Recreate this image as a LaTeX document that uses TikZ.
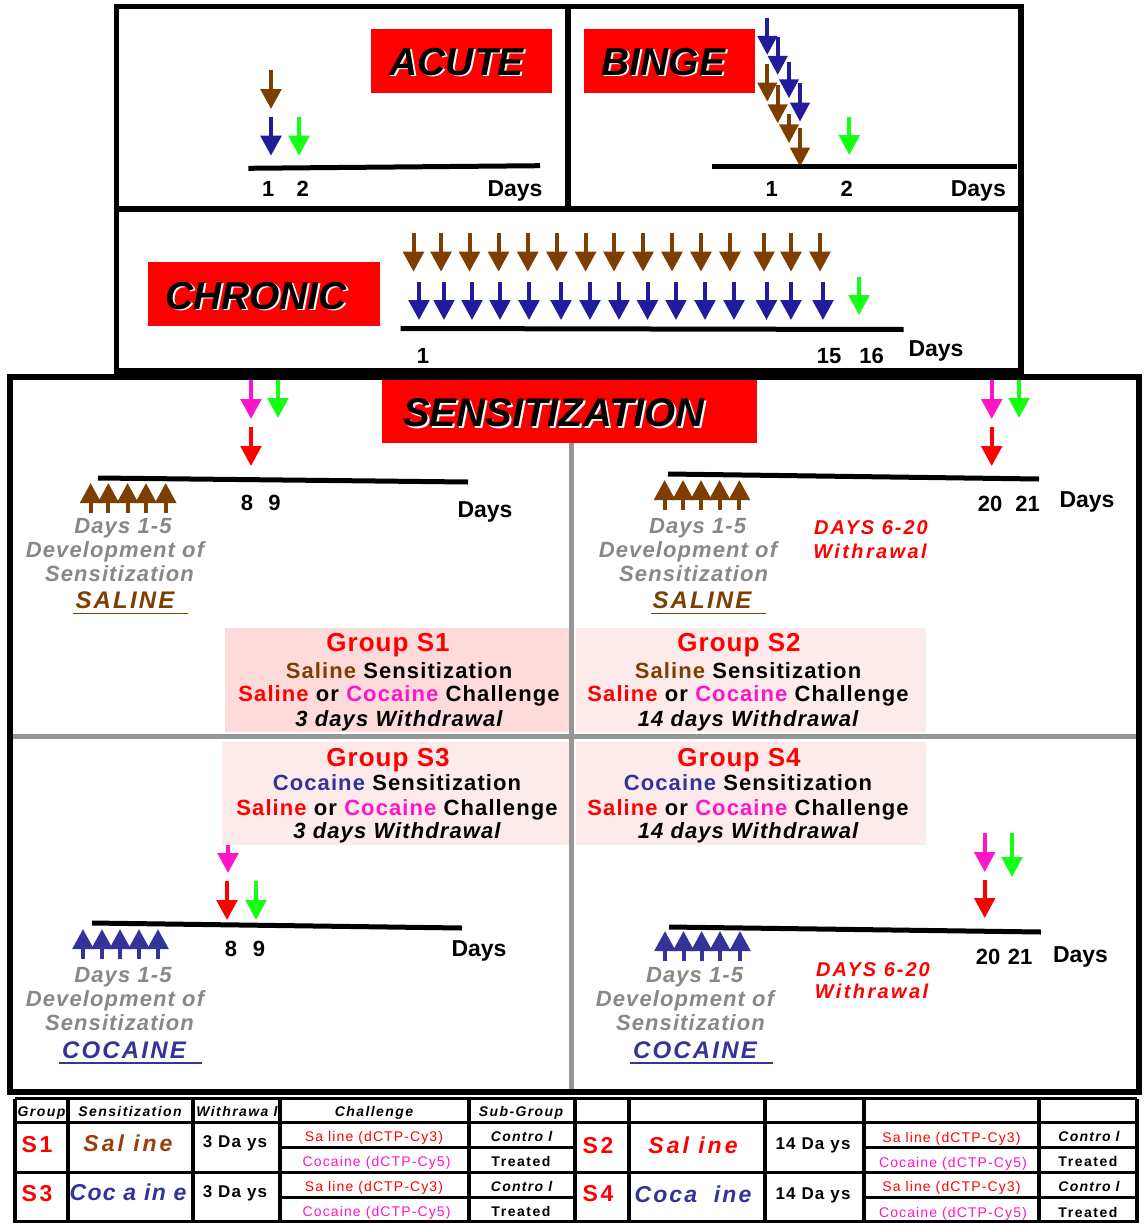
\documentclass[tikz,border=0pt]{standalone}
\usepackage{fontspec}
\setmainfont{Liberation Sans}
\usetikzlibrary{arrows.meta}
\newcommand\fsz[1]{\fontsize{#1}{#1}\selectfont}
\newcommand\lsp[1]{\addfontfeature{LetterSpace=#1}}
\definecolor{brn}{RGB}{125,62,0}
\definecolor{tbrn}{RGB}{155,62,10}
\definecolor{navy}{RGB}{32,28,155}
\definecolor{cblue}{RGB}{51,51,153}
\definecolor{grn}{RGB}{20,255,20}
\definecolor{mag}{RGB}{255,20,200}
\definecolor{gtext}{RGB}{136,136,136}
\definecolor{gline}{RGB}{150,150,150}
\definecolor{pinkA}{RGB}{253,219,219}
\definecolor{pinkB}{RGB}{253,234,234}
\begin{document}
\begin{tikzpicture}[x=1pt,y=-1pt,inner sep=0pt,outer sep=0pt,
  frame/.style={line width=5.5pt},
  axisline/.style={line width=5pt},
  dn/.style={line width=4pt,-{Triangle[width=20.5pt,length=20pt]}},
  dnb/.style={line width=4pt,-{Triangle[width=19pt,length=19pt]}},
  hd/.style={anchor=base,font=\fsz{39}\bfseries\itshape},
  dig/.style={anchor=base,font=\fsz{22}\bfseries},
  dayl/.style={anchor=base,font=\fsz{23}\bfseries},
  gt/.style={anchor=base,text=gtext,font=\fsz{22}\bfseries\itshape\lsp{5}},
  drug/.style={anchor=base,font=\fsz{24}\bfseries\itshape\lsp{9}},
  wd/.style={anchor=base,text=red,font=\fsz{20}\bfseries\itshape\lsp{10}},
  grp/.style={anchor=base,text=red,font=\fsz{26}\bfseries\lsp{4}},
  gl/.style={anchor=base,font=\fsz{22}\bfseries\lsp{5}},
  gli/.style={anchor=base,font=\fsz{22}\bfseries\itshape\lsp{5}},
  th/.style={anchor=base,font=\fsz{14}\bfseries\itshape\lsp{10}},
  tS/.style={anchor=base,text=red,font=\fsz{23}\bfseries\lsp{12}},
  tdrug/.style={anchor=base,font=\fsz{23}\bfseries\itshape\lsp{13}},
  tday/.style={anchor=base,font=\fsz{17}\bfseries\lsp{7}},
  tch/.style={anchor=base,font=\fsz{14}\lsp{8}},
  tctl/.style={anchor=base,font=\fsz{14}\bfseries\itshape\lsp{9}},
  ttr/.style={anchor=base,font=\fsz{14}\bfseries\lsp{11}},
  tline/.style={line width=3.5pt}]
\useasboundingbox (0,0) rectangle (1145,1223);
\fill[white] (0,0) rectangle (1145,1223);

% ---------- frames ----------
\draw[frame] (116.5,6.5) rectangle (1021,371);
\draw[frame] (568,6.5) -- (568,209);
\draw[frame] (116.5,209) -- (1021,209);
\draw[gline,line width=5pt] (571,380) -- (571,1089);
\draw[gline,line width=5pt] (13,736) -- (1136,736);
\draw[frame] (10,377) rectangle (1139,1092);

% ---------- ACUTE ----------
\fill[red] (371,29) rectangle (552,93);
\node[hd,text=white] at (458.7,76.5) {ACUTE};
\node[hd] (acute) at (456.7,75) {ACUTE};
\draw[dn,brn] (271,70) -- (271,109);
\draw[dn,navy] (271,116.7) -- (271,155.7);
\draw[dn,grn] (299,116.7) -- (299,155.7);
\draw[axisline] (248.3,168.3) -- (540,165.7);
\node[dig] (a1) at (268.3,196.7) {1};
\node[dig] (a2) at (302.7,196.7) {2};
\node[dayl] (adays) at (515,196.7) {Days};

% ---------- BINGE ----------
\fill[red] (584,29) rectangle (755,93);
\node[hd,text=white] at (665.3,76.5) {BINGE};
\node[hd] (binge) at (663.3,75) {BINGE};
\foreach \x/\t/\b in {767.3/18.3/55,777.7/37.3/75,789/61.7/98.3,800/83.3/121.7}
  \draw[dnb,navy] (\x,\t) -- (\x,\b);
\foreach \x/\t/\b in {767.3/64/101.7,777.7/85/123.3,789/114/143.3,800/127.7/166.7}
  \draw[dnb,brn] (\x,\t) -- (\x,\b);
\draw[dn,grn] (849.3,116.7) -- (849.3,155);
\draw[axisline] (711.7,166.7) -- (1017,166.7);
\node[dig] (b1) at (771.7,196.7) {1};
\node[dig] (b2) at (846.7,196.7) {2};
\node[dayl] (bdays) at (978.3,196.7) {Days};

% ---------- CHRONIC ----------
\fill[red] (148,262) rectangle (380,326);
\node[hd,text=white] at (258,310.5) {CHRONIC};
\node[hd] (chronic) at (256,309) {CHRONIC};
\foreach \x in {413.5,441,469.5,498.6,527.8,557,585.6,614,643,672,701,730,764,791,820}
  \draw[dn,brn] (\x,233) -- (\x,271.7);
\foreach \x in {419,444,472,500,529,561,590,619,647.5,676,705,734,766.5,791,823}
  \draw[dn,navy] (\x,282) -- (\x,320);
\draw[dn,grn] (859,277) -- (859,315);
\draw[axisline] (400.6,328.5) -- (903.6,329.5);
\node[dig] (c1) at (423,363.3) {1};
\node[dig] (c15) at (829,363.3) {15};
\node[dig] (c16) at (871.5,363.3) {16};
\node[dayl] (cdays) at (936,356.7) {Days};

% ---------- SENSITIZATION ----------
\fill[red] (382,380) rectangle (757,443);
\node[hd,text=white,font=\fsz{40}\bfseries\itshape] at (556,428.2) {SENSITIZATION};
\node[hd,font=\fsz{40}\bfseries\itshape] (sens) at (554,426.7) {SENSITIZATION};

% Q1
\draw[dn,mag] (251,380) -- (251,419);
\draw[dn,grn] (278,380) -- (278,418);
\draw[dn,red] (251,427) -- (251,466);
\draw[axisline] (98,478) -- (468,482);
\foreach \x in {90.6,108.4,127.6,146,165.7} \draw[dn,brn] (\x,513) -- (\x,483);
\node[dig] at (247,510.7) {8};
\node[dig] at (274.5,510.7) {9};
\node[dayl] at (485,517.7) {Days};
\node[gt] at (123,533.3) {Days 1-5};
\node[gt] at (115,557) {Development of};
\node[gt] at (119.5,581.5) {Sensitization};
\node[drug,text=brn] (sal1) at (125,608.3) {SALINE};
\draw[brn,line width=1.5pt] (73,613.5) -- (188,613.5);

% Q2
\draw[dn,mag] (991.7,380) -- (991.7,419);
\draw[dn,grn] (1019,380) -- (1019,418);
\draw[dn,red] (991.7,427) -- (991.7,466);
\draw[axisline] (668,474) -- (1039,479);
\foreach \x in {664.6,683,701,719.6,739.4} \draw[dn,brn] (\x,510) -- (\x,480);
\node[dig] at (990,511.7) {20};
\node[dig] at (1027.6,511.7) {21};
\node[dayl] at (1087,507.7) {Days};
\node[gt] at (697.6,533.3) {Days 1-5};
\node[gt] at (688,557) {Development of};
\node[gt] at (693.6,581) {Sensitization};
\node[drug,text=brn] (sal2) at (702,608.3) {SALINE};
\draw[brn,line width=1.5pt] (651,613.5) -- (766,613.5);
\node[wd] at (871,534) {DAYS 6-20};
\node[wd,font=\fsz{20}\bfseries\itshape\lsp{12}] at (870,558.3) {Withrawal};

% Q3
\draw[dn,mag] (228,834) -- (228,873);
\draw[dn,red] (227,881) -- (227,920);
\draw[dn,grn] (256,881) -- (256,920);
\draw[axisline] (92,923) -- (462,928);
\foreach \x in {83,102,120,139,158} \draw[dn,cblue] (\x,959) -- (\x,929);
\node[dig] at (231,956) {8};
\node[dig] at (259,956) {9};
\node[dayl] at (479,956.7) {Days};
\node[gt] at (123,982.7) {Days 1-5};
\node[gt] at (115,1006.7) {Development of};
\node[gt] at (119.5,1030.7) {Sensitization};
\node[drug,text=cblue] (coc3) at (124,1058.3) {COCAINE};
\draw[cblue,line width=1.5pt] (59,1063) -- (202,1063);

% Q4
\draw[dn,mag] (984.7,833) -- (984.7,872);
\draw[dn,grn] (1012,833) -- (1012,877);
\draw[dn,red] (984.7,880) -- (984.7,918);
\draw[axisline] (669,927) -- (1041,932);
\foreach \x in {665,683.5,701.6,720,740} \draw[dn,cblue] (\x,961) -- (\x,931);
\node[dig] at (988,964.3) {20};
\node[dig] at (1020,964.3) {21};
\node[dayl] at (1080.5,962.7) {Days};
\node[gt] at (694.6,982.7) {Days 1-5};
\node[gt] at (685,1006.7) {Development of};
\node[gt] at (690.5,1030.7) {Sensitization};
\node[drug,text=cblue] (coc4) at (695,1058.3) {COCAINE};
\draw[cblue,line width=1.5pt] (630,1063) -- (773,1063);
\node[wd] at (873,976.7) {DAYS 6-20};
\node[wd,font=\fsz{20}\bfseries\itshape\lsp{12}] at (871.5,998.3) {Withrawal};

% ---------- group boxes ----------
\fill[pinkA] (224.5,628) rectangle (568.5,732);
\fill[pinkB] (576,628) rectangle (926,732);
\fill[pinkB] (222,742) rectangle (569,845);
\fill[pinkB] (576,742) rectangle (926,845);

\node[grp] (g1) at (388,651.7) {Group S1};
\node[gl] at (399,678.3) {{\color{brn}Saline} Sensitization};
\node[gl] at (399,701.7) {{\color{red}Saline} or {\color{mag}Cocaine} Challenge};
\node[gli] at (399,726) {3 days Withdrawal};

\node[grp] (g2) at (739,651.7) {Group S2};
\node[gl] at (748,678.3) {{\color{brn}Saline} Sensitization};
\node[gl] at (748,701.7) {{\color{red}Saline} or {\color{mag}Cocaine} Challenge};
\node[gli] at (748,726) {14 days Withdrawal};

\node[grp] (g3) at (388,766) {Group S3};
\node[gl] at (397,790.7) {{\color{cblue}Cocaine} Sensitization};
\node[gl] at (397,815) {{\color{red}Saline} or {\color{mag}Cocaine} Challenge};
\node[gli] at (397,838.3) {3 days Withdrawal};

\node[grp] (g4) at (739,766) {Group S4};
\node[gl] at (748,790.7) {{\color{cblue}Cocaine} Sensitization};
\node[gl] at (748,815) {{\color{red}Saline} or {\color{mag}Cocaine} Challenge};
\node[gli] at (748,838.3) {14 days Withdrawal};

% ---------- table ----------
\foreach \x in {15,68,193,280,469,575,629,765,864,1039,1137}
  \draw[tline] (\x,1098.5) -- (\x,1223);
\foreach \y in {1098.5,1122.5,1172.5,1221.5}
  \draw[tline] (15,\y) -- (1137,\y);
\foreach \y in {1147.5,1197.5} {
  \draw[tline] (280,\y) -- (575,\y);
  \draw[tline] (864,\y) -- (1137,\y);
}
\node[th] at (41.5,1116.7) {Group};
\node[th] at (130,1116.7) {Sensitization};
\node[th] at (237,1116.7) {Withrawa l};
\node[th] at (374,1116.7) {Challenge};
\node[th] at (521,1116.7) {Sub-Group};

\node[tS] (s1) at (37,1152.7) {S1};
\node[tdrug,text=tbrn] at (128,1151) {Sal ine};
\node[tday] at (235,1147.3) {3 Da ys};
\node[tch,text=red] at (374,1141) {Sa line (dCTP-Cy3)};
\node[tch,text=mag] at (376.6,1166) {Cocaine (dCTP-Cy5)};
\node[tctl] at (521.6,1141) {Contro l};
\node[ttr] at (521,1166) {Treated};

\node[tS] (s3) at (37,1201.7) {S3};
\node[tdrug,text=cblue,font=\fsz{23}\bfseries\itshape\lsp{6}] at (128,1200) {Coc a in e};
\node[tday] at (235,1197.3) {3 Da ys};
\node[tch,text=red] at (374,1191) {Sa line (dCTP-Cy3)};
\node[tch,text=mag] at (376.6,1216) {Cocaine (dCTP-Cy5)};
\node[tctl] at (521.6,1191) {Contro l};
\node[ttr] at (521,1216) {Treated};

\node[tS] (s2) at (598,1153.3) {S2};
\node[tdrug,text=red] at (693,1153.3) {Sal ine};
\node[tday] at (813,1149.3) {14 Da ys};
\node[tch,text=red] at (951.4,1142.7) {Sa line (dCTP-Cy3)};
\node[tch,text=mag] at (953,1167.3) {Cocaine (dCTP-Cy5)};
\node[tctl] at (1089,1141.7) {Contro l};
\node[ttr] at (1088,1166.7) {Treated};

\node[tS] (s4) at (598,1201.7) {S4};
\node[tdrug,text=cblue,font=\fsz{23}\bfseries\itshape\lsp{9}] at (693,1202.7) {Coca \ ine};
\node[tday] at (813,1199.3) {14 Da ys};
\node[tch,text=red] at (951.4,1191.7) {Sa line (dCTP-Cy3)};
\node[tch,text=mag] at (953,1217.3) {Cocaine (dCTP-Cy5)};
\node[tctl] at (1089,1191.7) {Contro l};
\node[ttr] at (1088,1217.3) {Treated};
\end{tikzpicture}
\end{document}
